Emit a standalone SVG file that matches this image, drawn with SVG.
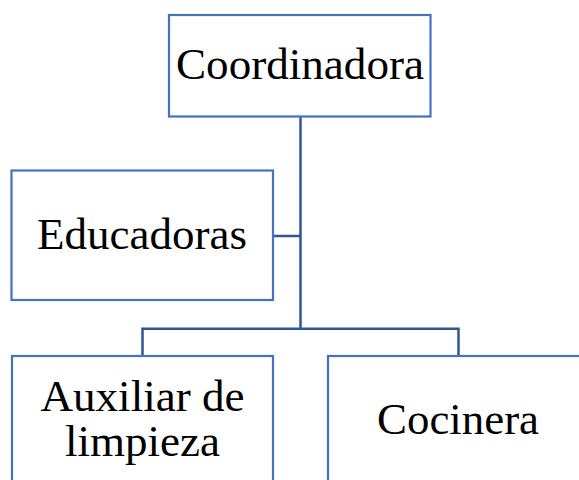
<svg xmlns="http://www.w3.org/2000/svg" width="579" height="480" viewBox="0 0 579 480">
<style>
.box{fill:#ffffff;stroke:#4472C4;stroke-width:2.2}
.lbl{font-family:'Liberation Serif','DejaVu Serif','Noto Serif','Times New Roman',Times,serif;font-size:45px;fill:#000000;text-anchor:middle}
.con{fill:none;stroke:#2F5597;stroke-width:2.5}
</style>
<rect width="579" height="480" fill="#ffffff"/>
<g id="connectors">
<path class="con" d="M300.5,116.5 V328.7"/>
<path class="con" d="M273,236 H300.5"/>
<path class="con" d="M142.5,356 V328.7 H458.5 V356"/>
</g>
<g id="coordinadora">
<rect class="box" x="169" y="15" width="261.5" height="101.5"/>
<text class="lbl" x="300" y="79" textLength="248" lengthAdjust="spacingAndGlyphs">Coordinadora</text>
</g>
<g id="educadoras">
<rect class="box" x="11.5" y="170.5" width="261.5" height="129.5"/>
<text class="lbl" x="142" y="249" textLength="210" lengthAdjust="spacingAndGlyphs">Educadoras</text>
</g>
<g id="auxiliar">
<rect class="box" x="12" y="356" width="261" height="140"/>
<text class="lbl" x="142.5" y="411" textLength="204" lengthAdjust="spacingAndGlyphs">Auxiliar de</text>
<text class="lbl" x="142.5" y="456" textLength="155" lengthAdjust="spacingAndGlyphs">limpieza</text>
</g>
<g id="cocinera">
<rect class="box" x="328" y="356" width="261" height="140"/>
<text class="lbl" x="458" y="434" textLength="162" lengthAdjust="spacingAndGlyphs">Cocinera</text>
</g>
</svg>
